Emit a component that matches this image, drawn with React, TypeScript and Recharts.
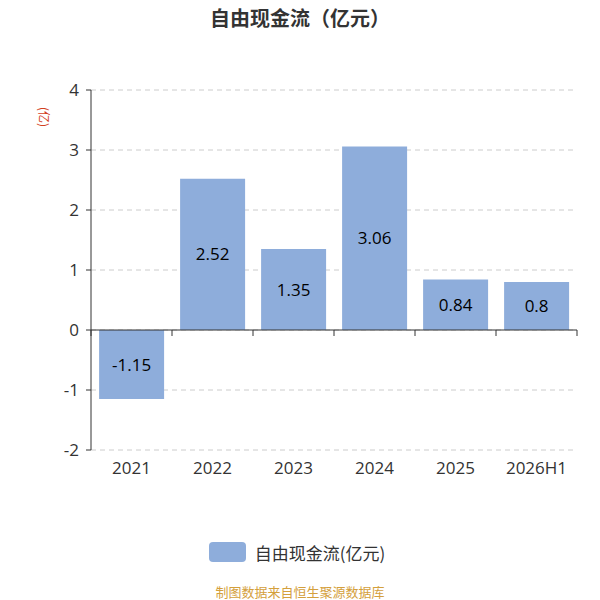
import React from "react";
import {
  BarChart,
  Bar,
  XAxis,
  YAxis,
  CartesianGrid,
  ReferenceLine,
  LabelList,
  Legend,
} from "recharts";

const categories = ["2021", "2022", "2023", "2024", "2025", "2026H1"];
const freeCashFlow = [-1.15, 2.52, 1.35, 3.06, 0.84, 0.8];
const yTicks = [-2, -1, 0, 1, 2, 3, 4];
const seriesName = "自由现金流(亿元)";
const titleText = "自由现金流（亿元）";
const unitText = "(亿)";
const sourceText = "制图数据来自恒生聚源数据库";

const data = categories.map((c, i) => ({ name: c, value: freeCashFlow[i] }));

const FONT = "'Noto Sans CJK SC', 'Noto Sans', sans-serif";
const NUM_FONT = "'Open Sans', 'Noto Sans CJK SC', sans-serif";
const BAR_COLOR = "#8eaddb";

const ZeroAxis = (props: any) => {
  const { x1, y1, x2, y2 } = props;
  const n = categories.length;
  const step = (x2 - x1) / n;
  const ticks = [];
  for (let i = 0; i <= n; i++) {
    const x = x1 + step * i;
    ticks.push(<line key={i} x1={x} y1={y1} x2={x} y2={y1 + 6} stroke="#333" strokeWidth={1} />);
  }
  return (
    <g>
      <line x1={x1} y1={y1} x2={x2} y2={y2} stroke="#333" strokeWidth={1} />
      {ticks}
    </g>
  );
};

const LegendContent = (props: any) => {
  const { payload } = props;
  return (
    <div style={{ display: "flex", justifyContent: "center", alignItems: "center", fontFamily: FONT, height: 24 }}>
      {(payload || []).map((p: any, i: number) => (
        <div key={i} style={{ display: "flex", alignItems: "center", marginLeft: -6 }}>
          <div style={{ width: 37, height: 20, borderRadius: 4, background: BAR_COLOR, marginRight: 9 }} />
          <span style={{ fontSize: 17, color: "#333" }}>{p.value}</span>
        </div>
      ))}
    </div>
  );
};

export default function App() {
  return (
    <div style={{ position: "absolute", left: 0, top: 0, width: 600, height: 600, background: "#fff", fontFamily: FONT }}>
      <div style={{ position: "absolute", top: 4, left: 0, width: 600, textAlign: "center", fontSize: 20, fontWeight: "bold", color: "#333", lineHeight: "28px" }}>
        {titleText}
      </div>
      <div style={{ position: "absolute", left: 34, top: 110, fontSize: 12, color: "#d2401e", transform: "rotate(90deg)", transformOrigin: "center", lineHeight: "14px" }}>
        {unitText}
      </div>
      <BarChart
        width={600}
        height={600}
        data={data}
        margin={{ top: 90, right: 23, bottom: 96, left: 41 }}
        barCategoryGap="10%"
      >
        <CartesianGrid vertical={false} strokeDasharray="5 4" stroke="#cccccc" />
        <XAxis
          dataKey="name"
          height={30}
          axisLine={false}
          tickLine={false}
          tickMargin={6}
          tick={{ fill: "#333", fontSize: 17, fontFamily: NUM_FONT }}
          interval={0}
        />
        <YAxis
          width={50}
          domain={[-2, 4]}
          ticks={yTicks}
          tickSize={5}
          tickMargin={7}
          axisLine={{ stroke: "#333" }}
          tickLine={{ stroke: "#333" }}
          tick={{ fill: "#333", fontSize: 17, fontFamily: NUM_FONT }}
          allowDataOverflow
        />
        <Bar dataKey="value" name={seriesName} fill={BAR_COLOR} isAnimationActive={false}>
          <LabelList dataKey="value" position="center" fill="#000" fontSize={17} fontFamily={NUM_FONT} />
        </Bar>
        <ReferenceLine y={0} shape={ZeroAxis} ifOverflow="visible" />
        <Legend
          content={LegendContent}
          wrapperStyle={{ position: "absolute", top: 540, left: 0, width: 600, height: 24 }}
        />
      </BarChart>
      <div style={{ position: "absolute", top: 582, left: 0, width: 600, textAlign: "center", fontSize: 13, color: "#d4a03c", lineHeight: "20px" }}>
        {sourceText}
      </div>
    </div>
  );
}
